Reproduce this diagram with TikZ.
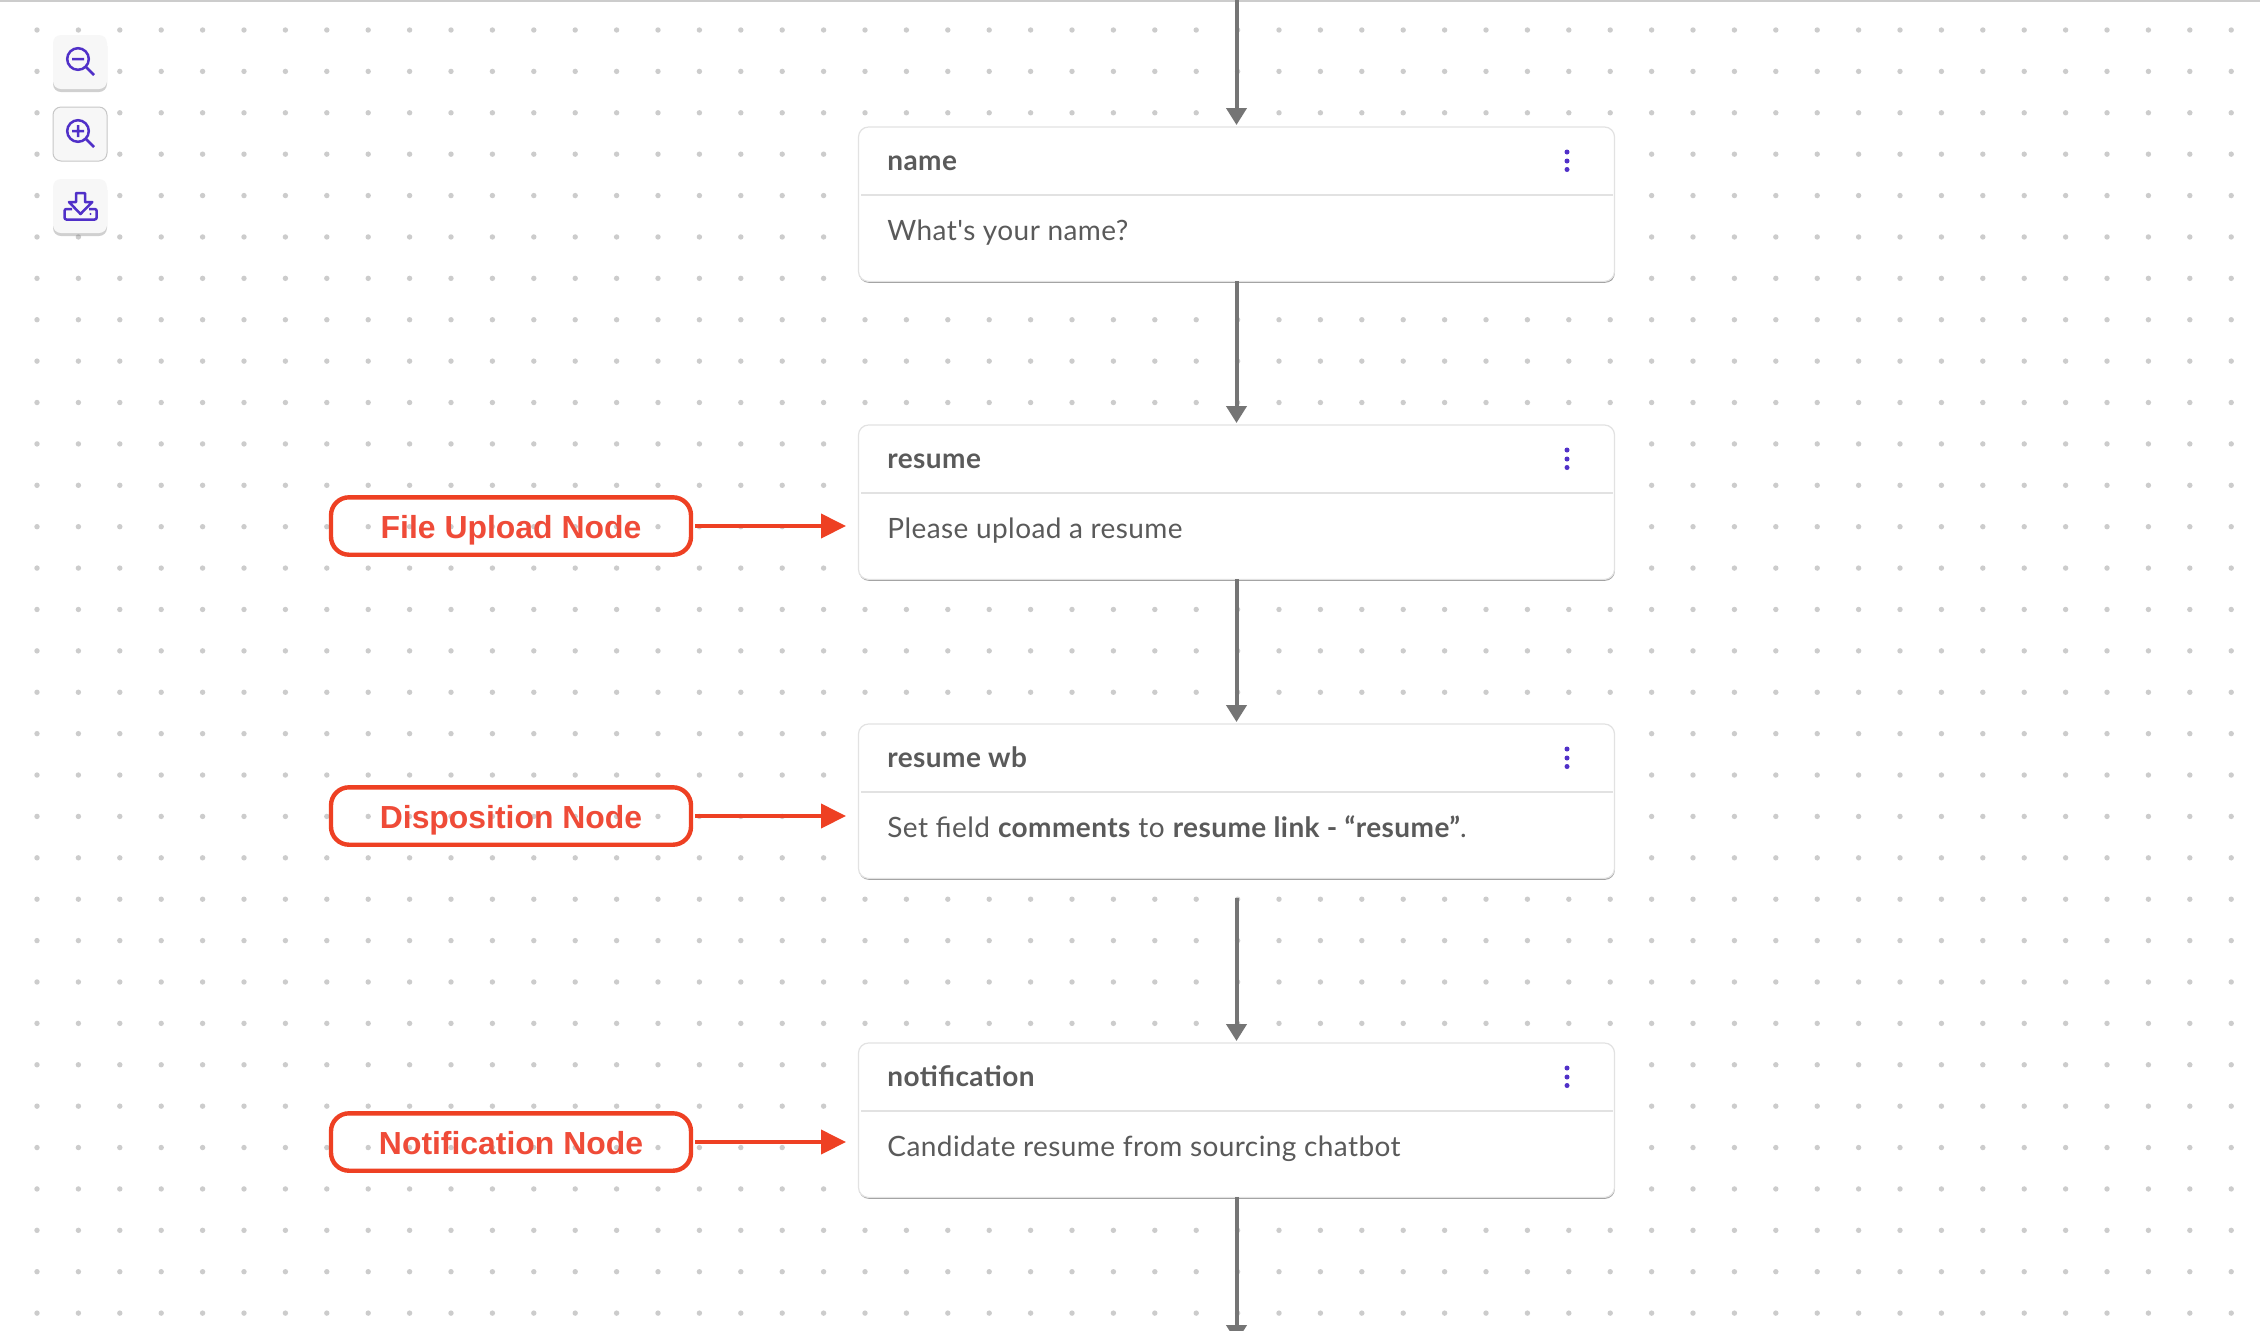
\documentclass[tikz,border=0pt]{standalone}
\usepackage{fontspec}
\usetikzlibrary{arrows.meta,shadows}
\newfontfamily\cardfont[LetterSpace=1.5]{Lato}
\newfontfamily\notefont{Liberation Sans}
\definecolor{griddot}{HTML}{CCCCCC}
\definecolor{flowgray}{HTML}{757575}
\definecolor{cardtext}{HTML}{5A5A5A}
\definecolor{cardline}{HTML}{E2E2E2}
\definecolor{iconblue}{HTML}{5030C8}
\definecolor{noteline}{HTML}{EE4023}
\definecolor{notetext}{HTML}{EF4B38}
\tikzset{
  card/.style={draw=cardline,line width=.6pt,fill=white,rounded corners=5pt,anchor=north,
    minimum width=378pt,minimum height=77.2pt,inner sep=0pt,outer sep=0pt,
    drop shadow={shadow xshift=.2pt,shadow yshift=-.7pt,opacity=.7,fill=black!55}},
  cardtitle/.style={anchor=base west,inner sep=0pt,text=cardtext,font=\cardfont\bfseries\fontsize{14}{16}\selectfont},
  cardbody/.style={anchor=base west,inner sep=0pt,text=cardtext,font=\cardfont\fontsize{14}{16}\selectfont},
  flow/.style={-{Triangle[width=10pt,length=8.5pt]},line width=2pt,flowgray,shorten >=1pt},
  notebox/.style={draw=noteline,line width=2.2pt,rounded corners=9pt,minimum width=180pt,minimum height=28.7pt,
    inner sep=0pt,outer sep=2pt,text=notetext,text height=13.2pt,text depth=.5pt,font=\notefont\bfseries\fontsize{15.95}{19}\selectfont},
  notearrow/.style={-{Triangle[width=12pt,length=12.5pt]},line width=2pt,noteline},
  iconbtn/.style={fill=black!3,rounded corners=4pt,minimum width=27pt,minimum height=27pt,inner sep=0pt},
  iconline/.style={draw=iconblue,line width=1.25pt}
}
\begin{document}
\begin{tikzpicture}[x=.5pt,y=-.5pt]

      \useasboundingbox (0,0) rectangle (2260,1330);
      \fill[white] (0,0) rectangle (2260,1330);
      \foreach \i in {0,...,53}
        \foreach \j in {0,...,31}
          \fill[griddot] ({37+41.4*\i},{30+41.39*\j}) circle (1.35pt);
      \draw[griddot,line width=1pt] (0,1)--(2260,1);

      % the four cards
      \foreach \id/\ytop/\ttl/\txt in {name/127/name/{What's your name?},
          resume/425/resume/{Please upload a resume},
          resumewb/724/resume wb/{Set field \textbf{comments} to \textbf{resume link - “resume”}.},
          notification/1043/notification/{Candidate resume from sourcing chatbot}}{
        \node[card] (\id) at (1236.5,\ytop) {};
        \draw[cardline,line width=.8pt] (861,{\ytop+68})--(1613,{\ytop+68});
        \node[cardtitle] (\id title) at (887,{\ytop+43}) {\ttl};
        \node[cardbody] (\id body) at (887,{\ytop+113.5}) {\txt};
        \foreach \k in {25,34,42.5}
          \fill[iconblue] (1567,{\ytop+\k}) circle (1.25pt);
      }

      \coordinate (flowtop) at (1236.5,0);
      \coordinate (flowend) at (1236.5,1342);
      \draw[flow] (flowtop)--(name.north);
      \draw[flow] (name.south)--(resume.north);
      \draw[flow] (resume.south)--(resumewb.north);
      \draw[flow,shorten <=10pt] (resumewb.south)--(notification.north);
      \draw[flow,shorten >=0pt] (notification.south)--(flowend);

      % notes on the left
      \node[notebox] (noteupload) at (511,526) {File Upload Node};
      \node[notebox] (notedisp) at (511,816) {Disposition Node};
      \node[notebox] (notenotif) at (511,1142) {Notification Node};
      \coordinate (uploadtip) at (846,526);
      \coordinate (disptip) at (846,816);
      \coordinate (notiftip) at (846,1142);
      \draw[notearrow] (noteupload.east)--(uploadtip);
      \draw[notearrow] (notedisp.east)--(disptip);
      \draw[notearrow] (notenotif.east)--(notiftip);

      % zoom and download buttons
      \node[iconbtn,drop shadow={shadow xshift=0pt,shadow yshift=-1.5pt,opacity=.3,fill=black!60}] (zoomout) at (80,62) {};
      \node[iconbtn,draw=black!22,line width=.5pt] (zoomin) at (80,134) {};
      \node[iconbtn,drop shadow={shadow xshift=0pt,shadow yshift=-1.5pt,opacity=.3,fill=black!60}] (download) at (80,206) {};
      \draw[iconline] (78,59) circle (5.4pt) (72,59)--(84,59) (86,67)--(94,75);
      \draw[iconline] (78,131) circle (5.4pt) (72,131)--(84,131) (78,125)--(78,137) (86,139)--(94,147);
      \draw[iconline,line join=round] (76,193)--(85,193)--(85,202)--(92.3,202)--(80.5,214)--(69,202)--(76,202)--cycle;
      \draw[iconline,rounded corners=1pt] (72,209)--(64.5,209)--(64.5,219.5)--(96.7,219.5)--(96.7,209)--(89,209);
      \fill[iconblue] (90.5,214) circle (.6pt);

\end{tikzpicture}
\end{document}
